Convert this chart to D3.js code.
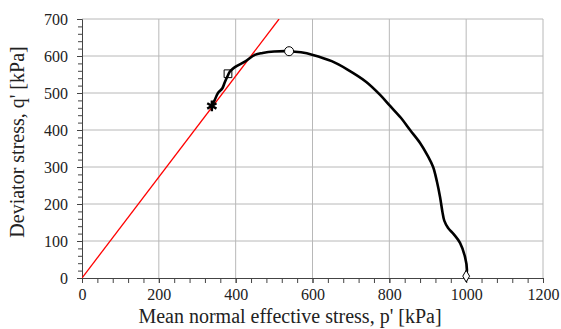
<!DOCTYPE html>
<html>
<head>
<meta charset="utf-8">
<script src="https://cdn.jsdelivr.net/npm/d3@7"></script>
<style>
  body { margin: 0; background: #fff; }
  text { font-family: "Liberation Serif", "Times New Roman", serif; fill: #222; }
</style>
</head>
<body>
<svg id="chart"></svg>
<script>
var width = 561;
var height = 329;
var margin = {top: 19, right: 18, bottom: 51, left: 82};

// stress path (p', q') from start at p'=1000 to the end point
var pathP = [1000, 1002, 997, 984, 968, 953, 943, 938, 932, 924, 914, 900, 880, 854, 830, 802, 776, 740, 690, 650, 601, 570, 539, 500, 470, 450, 424, 398, 385, 380, 372, 365, 354, 345, 338];
var pathQ = [5, 22, 57, 95, 118, 135, 155, 180, 219, 260, 300, 330, 365, 400, 433, 465, 495, 530, 564, 586, 603, 610, 613, 612, 608, 603, 585, 570, 558, 548, 530, 512, 500, 480, 465];

// critical state line through origin
var cslP = [0, 513];
var cslQ = [0, 700];

// markers
var markerNames = ["start", "peak", "square", "end"];
var markerP = [1000, 539, 380, 338];
var markerQ = [5, 613, 552, 465];

var xTicks = [0, 200, 400, 600, 800, 1000, 1200];
var yTicks = [0, 100, 200, 300, 400, 500, 600, 700];

var svg = d3.select("#chart")
  .attr("width", width)
  .attr("height", height);

var x = d3.scaleLinear().domain([0, 1200]).range([margin.left, width - margin.right]);
var y = d3.scaleLinear().domain([0, 700]).range([height - margin.bottom, margin.top]);

// clip for the plot area
svg.append("clipPath").attr("id", "clip")
  .append("rect")
  .attr("x", x(0)).attr("y", y(700))
  .attr("width", x(1200) - x(0)).attr("height", y(0) - y(700));

// gridlines
svg.append("g")
  .selectAll("line")
  .data(xTicks.slice(1))
  .join("line")
  .attr("x1", d => x(d)).attr("x2", d => x(d))
  .attr("y1", y(0)).attr("y2", y(700))
  .attr("stroke", "#b8b8b8").attr("stroke-width", 1);

svg.append("g")
  .selectAll("line")
  .data(yTicks.slice(1))
  .join("line")
  .attr("x1", x(0)).attr("x2", x(1200))
  .attr("y1", d => y(d)).attr("y2", d => y(d))
  .attr("stroke", "#b8b8b8").attr("stroke-width", 1);

// axes (minor ticks first, then labelled major ticks)
var xAxis = svg.append("g")
  .attr("transform", "translate(0," + y(0) + ")")
  .call(d3.axisBottom(x).tickValues(d3.range(0, 1201, 40)).tickSize(5).tickFormat(""));
var xMajor = xAxis.append("g")
  .call(d3.axisBottom(x).tickValues(xTicks).tickSize(5).tickPadding(6).tickFormat(d3.format("d")));
xMajor.select(".domain").remove();

var yAxis = svg.append("g")
  .attr("transform", "translate(" + x(0) + ",0)")
  .call(d3.axisLeft(y).tickValues(d3.range(0, 701, 20)).tickSize(4).tickFormat(""));
var yMajor = yAxis.append("g")
  .call(d3.axisLeft(y).tickValues(yTicks).tickSize(5).tickPadding(9).tickFormat(d3.format("d")));
yMajor.select(".domain").remove();

svg.selectAll(".domain").attr("stroke", "#444");
svg.selectAll(".tick line").attr("stroke", "#444");
svg.selectAll(".tick text")
  .attr("font-size", 16)
  .attr("fill", "#333");

// red line
var lineGen = d3.line().x(d => x(d[0])).y(d => y(d[1]));
svg.append("path")
  .attr("clip-path", "url(#clip)")
  .datum(cslP.map((p, i) => [p, cslQ[i]]))
  .attr("d", lineGen)
  .attr("fill", "none")
  .attr("stroke", "#ff0000")
  .attr("stroke-width", 1.3);

// stress path
var curve = d3.line().curve(d3.curveCatmullRom).x(d => x(d[0])).y(d => y(d[1]));
var pathData = pathP.map((p, i) => [p, pathQ[i]]);
svg.append("path")
  .datum(pathData)
  .attr("d", curve)
  .attr("fill", "none")
  .attr("stroke", "#000")
  .attr("stroke-width", 2.6);

// markers
var markers = svg.append("g");
markerNames.forEach(function(name, i) {
  var cx = x(markerP[i]), cy = y(markerQ[i]);
  if (name == "start") {
    markers.append("path")
      .attr("d", d3.symbol(d3.symbolDiamond, 40)())
      .attr("transform", "translate(" + cx + "," + cy + ")")
      .attr("fill", "#fff").attr("stroke", "#000").attr("stroke-width", 1);
  } else if (name == "peak") {
    markers.append("circle")
      .attr("cx", cx).attr("cy", cy).attr("r", 4.5)
      .attr("fill", "#fff").attr("stroke", "#000").attr("stroke-width", 1);
  } else if (name == "square") {
    markers.append("path")
      .attr("d", d3.symbol(d3.symbolSquare, 60)())
      .attr("transform", "translate(" + cx + "," + cy + ")")
      .attr("fill", "none").attr("stroke", "#000").attr("stroke-width", 1);
  } else {
    markers.append("path")
      .attr("d", d3.symbol(d3.symbolAsterisk, 80)())
      .attr("transform", "translate(" + cx + "," + cy + ")")
      .attr("fill", "none").attr("stroke", "#000").attr("stroke-width", 2.4);
  }
});

// axis titles
svg.append("text")
  .attr("x", 290)
  .attr("y", 323)
  .attr("text-anchor", "middle")
  .style("font-size", "20px")
  .text("Mean normal effective stress, p' [kPa]");

svg.append("text")
  .attr("transform", "translate(24,142) rotate(-90)")
  .attr("text-anchor", "middle")
  .style("font-size", "20px")
  .text("Deviator stress, q' [kPa]");
</script>
</body>
</html>
